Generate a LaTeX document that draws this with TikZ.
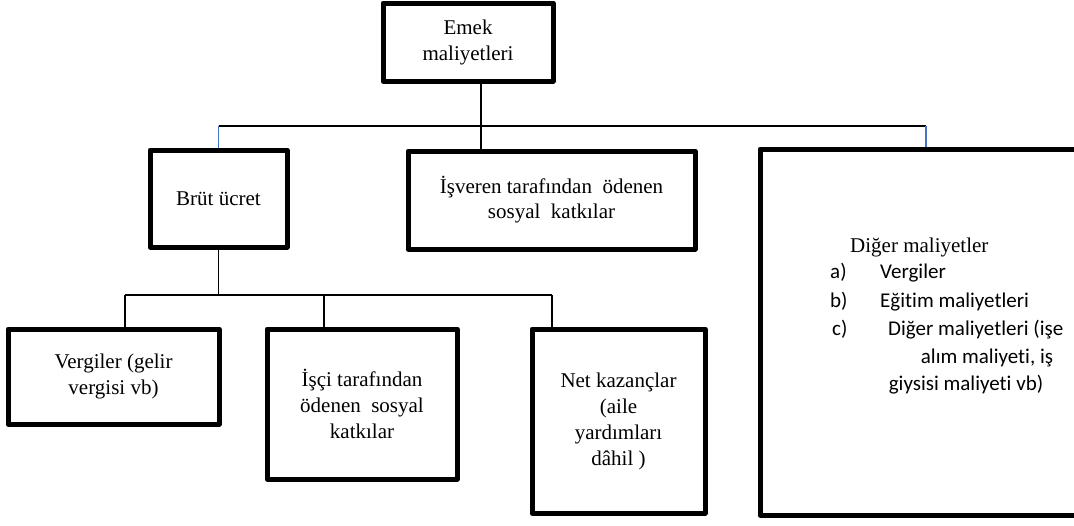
\documentclass[tikz,border=0pt]{standalone}
\usepackage{fontspec}
\setmainfont{Liberation Serif}
\newfontfamily\calfont[Ligatures=NoCommon]{Carlito}
\usetikzlibrary{calc}
\definecolor{wordblue}{HTML}{4472C4}
\tikzset{box/.style={draw, line width=5pt, line join=round, align=center, inner sep=0pt, font=\fontsize{21}{26}\selectfont},
  conn/.style={line width=1.2pt},
  txt/.style={inner sep=0pt, anchor=base west, font=\fontsize{21}{26}\selectfont},
  cal/.style={inner sep=0pt, anchor=base west, font=\calfont\fontsize{21}{26}\selectfont}}

\begin{document}
\begin{tikzpicture}[x=1pt,y=-1pt]
\useasboundingbox (0,0) rectangle (1074,525);
% boxes
\node[box, minimum width=170pt, minimum height=78pt] (emek) at (468,42) {Emek\\maliyetleri};
\node[box, minimum width=137pt, minimum height=97pt] (brut) at (218.5,198.5) {Brüt ücret};
\node[box, minimum width=287pt, minimum height=98pt, font=\fontsize{21}{25}\selectfont] (isveren) at (551.5,200) {İşveren tarafından\ \ ödenen\\sosyal\ \ katkılar};
\node[box, minimum width=332pt, minimum height=366pt] (diger) at (926,332) {};
\node[box, minimum width=211pt, minimum height=95pt] (vergi) at (113.5,376.5) {Vergiler (gelir\\vergisi vb)};
\node[box, minimum width=190pt, minimum height=150pt] (isci) at (362,404) {İşçi tarafından\\ödenen\ \ sosyal\\katkılar};
\node[box, minimum width=173pt, minimum height=184pt] (net) at (618.5,421) {Net kazançlar\\(aile\\yardımları\\dâhil )};

% text of the last box
\node[txt] (dtitle) at (850,252) {Diğer maliyetler};
\node[cal] (da) at (830,278) {a)};
\node[cal] (dva) at (880,278) {Vergiler};
\node[cal] (db) at (830,307) {b)};
\node[cal] (dvb) at (880,307) {Eğitim maliyetleri};
\node[cal] (dc) at (832,335) {c)};
\node[cal] (dvc) at (888,335) {Diğer maliyetleri (işe};
\node[cal, anchor=base] (dvc2) at (987,363) {alım maliyeti, iş};
\node[cal, anchor=base] (dvc3) at (966,390) {giysisi maliyeti vb)};

% connectors
\coordinate (t0) at (481,126);
\coordinate (d1) at (125,295);
\coordinate (d2) at (324,295);
\coordinate (d3) at (552,295);
\draw[conn] (emek.south -| t0) -- (isveren.north -| t0);
\draw[conn] (brut.north |- t0) -- (diger.north |- t0);
\draw[conn, wordblue] (brut.north |- t0) -- (brut.north);
\draw[conn, wordblue] (diger.north |- t0) -- (diger.north);
\draw[conn] (brut.south) -- (brut.south |- d1);
\draw[conn] (d1) -- (d3);
\foreach \c/\n in {d1/vergi,d2/isci,d3/net}
  \draw[conn] (\c) -- (\n.north -| \c);
\end{tikzpicture}
\end{document}
